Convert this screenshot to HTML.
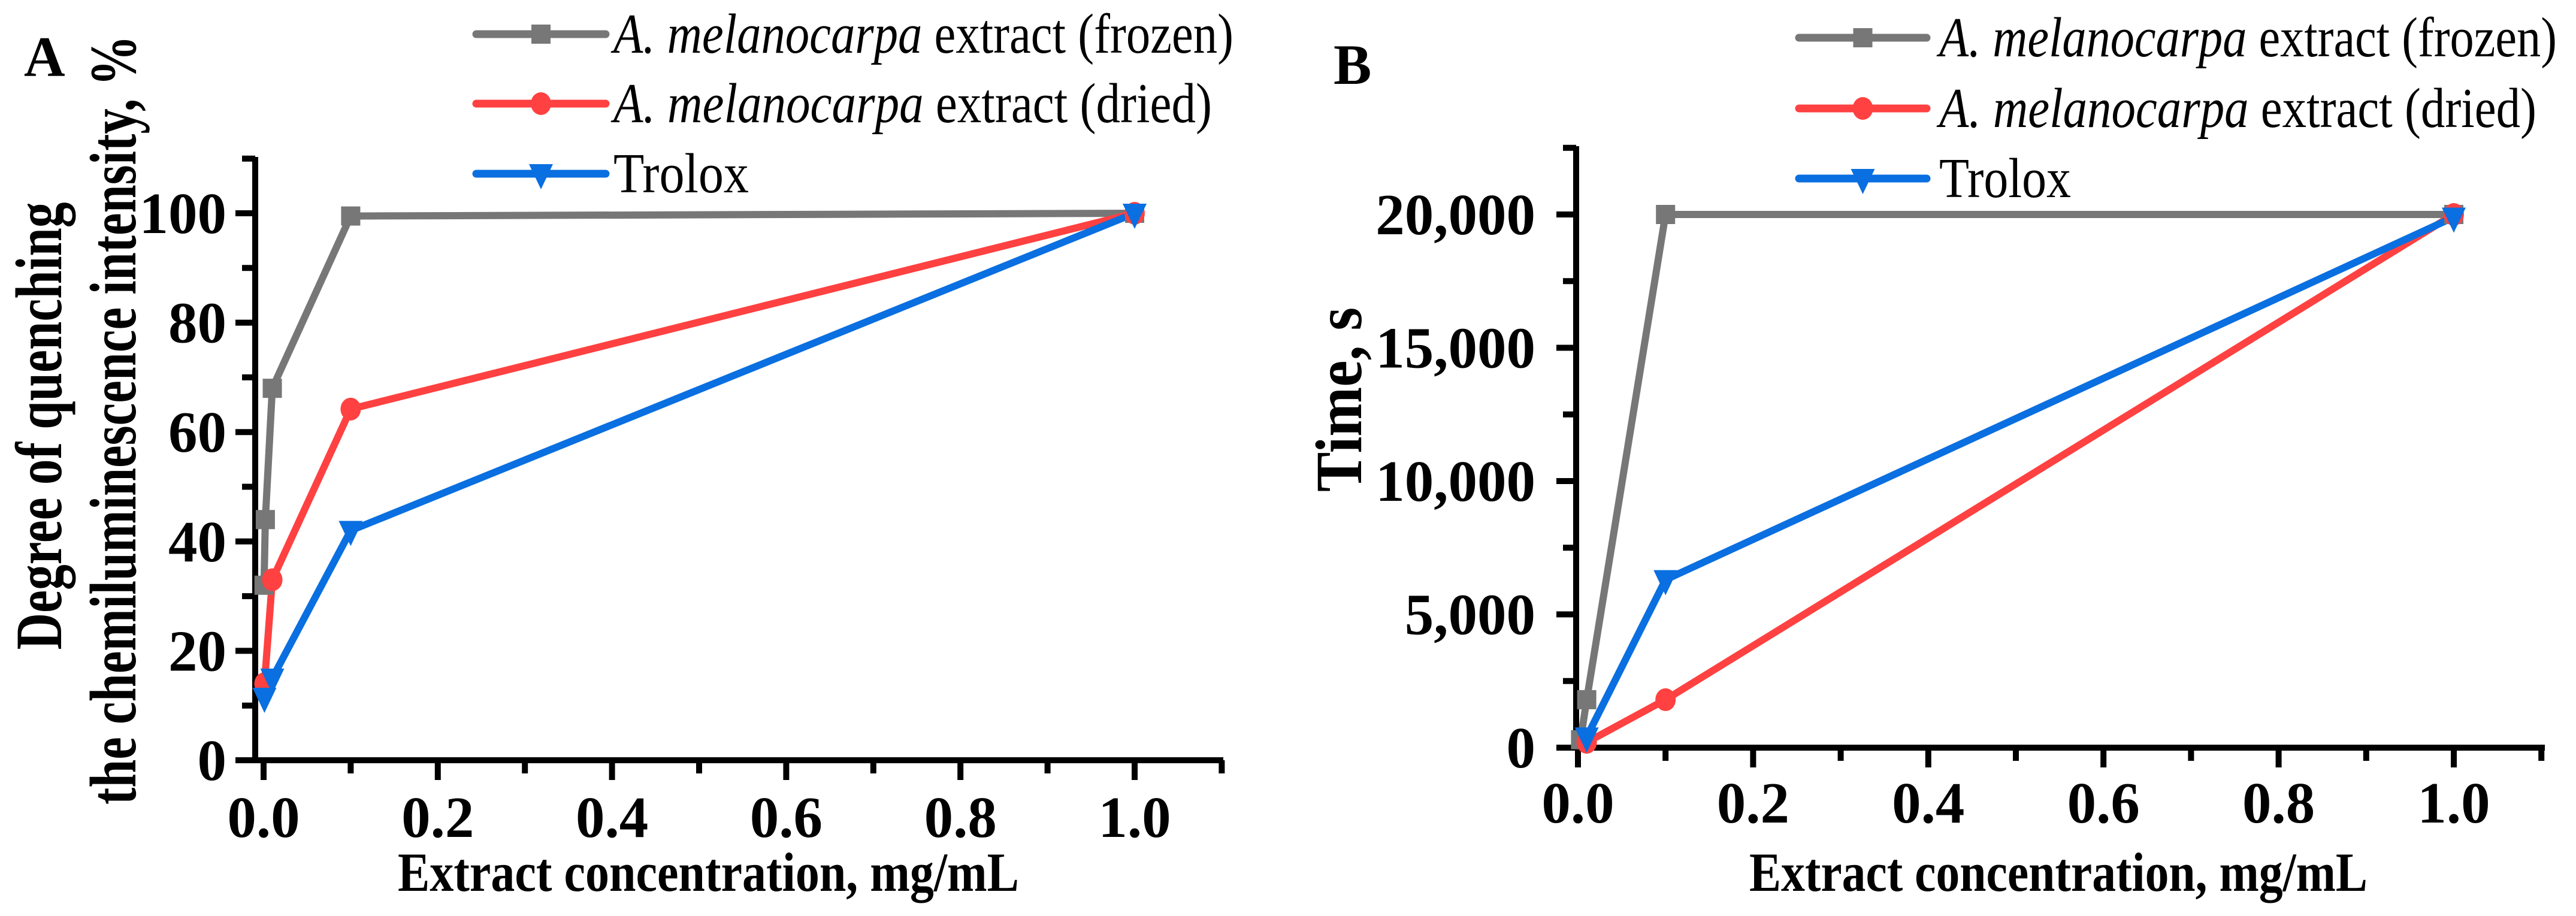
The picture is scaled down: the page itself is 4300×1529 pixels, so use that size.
<!DOCTYPE html>
<html><head><meta charset="utf-8"><style>
html,body{margin:0;padding:0;background:#fff;}
svg{display:block;}
text{font-family:"Liberation Serif",serif;fill:#000;}
</style></head><body>
<svg id="fig" width="4300" height="1529" viewBox="0 0 4300 1529" xmlns="http://www.w3.org/2000/svg">
<rect width="4300" height="1529" fill="#fff"/>
<g id="pa"></g>
<g id="pb"></g>
</svg>
<script>
// Panel A data
const aFrozenX=[0.0005,0.002,0.01,0.1,1];
const aFrozenY=[32,44,68,99.5,100];
const aDriedX=[0.001,0.01,0.1,1];
const aDriedY=[14,33,64.2,100];
const aTroloxX=[0.001,0.01,0.1,1];
const aTroloxY=[11.5,15,42,100];
const aYTicks=[0,20,40,60,80,100];
const aYTickLabels=["0","20","40","60","80","100"];
// Panel B data
const bFrozenX=[0.003,0.01,0.1,1];
const bFrozenY=[300,1800,20000,20000];
const bDriedX=[0.01,0.1,1];
const bDriedY=[200,1800,20000];
const bTroloxX=[0.01,0.1,1];
const bTroloxY=[400,6300,19900];
const bYTicks=[0,5000,10000,15000,20000];
const bYTickLabels=["0","5,000","10,000","15,000","20,000"];
const xTicks=[0,0.2,0.4,0.6,0.8,1.0];
const xTickLabels=["0.0","0.2","0.4","0.6","0.8","1.0"];
const legendLabels=["frozen","dried"];

const NS="http://www.w3.org/2000/svg";
const COL={frozen:"#777777",dried:"#ff4141",trolox:"#0a6fe0"};
function mk(parent,tag,attrs){const e=document.createElementNS(NS,tag);for(const k in attrs)e.setAttribute(k,attrs[k]);parent.appendChild(e);return e;}

function marker(g,type,x,y,name){
  let m;
  if(type==="frozen"){m=mk(g,"rect",{x:x-16,y:y-16,width:32,height:32,fill:COL.frozen});}
  else if(type==="dried"){m=mk(g,"ellipse",{cx:x,cy:y,rx:17,ry:19,fill:COL.dried});}
  else {m=mk(g,"polygon",{points:`${x-20},${y-16} ${x+20},${y-16} ${x},${y+26}`,fill:COL.trolox});}
  
  
}

function panel(g,cfg){
  const sx=v=>cfg.x0+(v-0)*(cfg.x1-cfg.x0)/1.0;
  const sy=v=>cfg.y0-(v)*(cfg.y0-cfg.y1)/cfg.yRef;
  const ax=mk(g,"path",{d:`M${cfg.ax} ${cfg.top} L${cfg.ax} ${cfg.y0+5} M${cfg.ax-5} ${cfg.y0} L${cfg.right} ${cfg.y0}`,stroke:"#000","stroke-width":10,fill:"none"});
  
  
  for(let i=0;i<=11;i++){
    const v=i*0.1;const major=i%2===0;
    const t=mk(g,"line",{x1:sx(v),x2:sx(v),y1:cfg.y0,y2:cfg.y0+(major?33:22),stroke:"#000","stroke-width":10});
    
    
  }
  xTicks.forEach((v,i)=>{
    const t=mk(g,"text",{x:sx(v),y:cfg.xlabBase,"text-anchor":"middle","font-size":97,"font-weight":"bold"});
    t.textContent=xTickLabels[i];
    
    
  });
  const step=cfg.yTicks[1]-cfg.yTicks[0];
  for(let v=0;v<=cfg.yMax+1e-9;v+=step/2){
    const major=Math.abs(v/step-Math.round(v/step))<1e-9;
    const t=mk(g,"line",{x1:cfg.ax,x2:cfg.ax-(major?33:22),y1:sy(v),y2:sy(v),stroke:"#000","stroke-width":10});
    
    
  }
  cfg.yTicks.forEach((v,i)=>{
    const t=mk(g,"text",{x:cfg.ylabRight,y:sy(v)+33,"text-anchor":"end","font-size":97,"font-weight":"bold"});
    t.textContent=cfg.yLabels[i];
    
    
  });
  cfg.series.forEach(s=>{
    const pts=s.x.map((v,i)=>`${sx(v)},${sy(s.y[i])}`).join(" ");
    const l=mk(g,"polyline",{points:pts,fill:"none",stroke:COL[s.type],"stroke-width":12,"stroke-linejoin":"round"});
    
    
  });
  cfg.series.forEach(s=>{
    s.x.forEach((v,i)=>marker(g,s.type,sx(v),sy(s.y[i]),'point-'+s.type));
  });
  ["frozen","dried","trolox"].forEach((tp,i)=>{
    const ly=cfg.legY[i];
    const lg=mk(g,"g",{});
    
    
    mk(lg,"line",{x1:cfg.legX0,x2:cfg.legX1,y1:ly,y2:ly,stroke:COL[tp],"stroke-width":13,"stroke-linecap":"round"});
    marker(lg,tp,(cfg.legX0+cfg.legX1)/2,ly,'legend-marker-'+tp);
    const t=mk(lg,"text",{x:cfg.legTX,y:ly+31,"font-size":94,textLength:cfg.legTW[i],lengthAdjust:"spacingAndGlyphs"});
    if(i<2){
      const it=mk(t,"tspan",{"font-style":"italic"});it.textContent="A. melanocarpa";
      const rt=mk(t,"tspan",{});rt.textContent=" extract ("+legendLabels[i]+")";
    } else t.textContent="Trolox";
    
    
  });
  const xt=mk(g,"text",{x:cfg.xtX,y:1487,"font-size":92,"font-weight":"bold",textLength:cfg.xtW,lengthAdjust:"spacingAndGlyphs"});
  xt.textContent="Extract concentration, mg/mL";
  
  
  cfg.yTitles.forEach(yt=>{
    const t=mk(g,"text",{x:0,y:0,"font-size":110,"font-weight":"bold","text-anchor":"middle",textLength:yt.len,lengthAdjust:"spacingAndGlyphs",transform:`translate(${yt.x},${yt.cy}) rotate(-90)`});
    t.textContent=yt.text;
    
    
  });
  const pl=mk(g,"text",{x:cfg.plX,y:cfg.plY,"font-size":95,"font-weight":"bold"});
  pl.textContent=cfg.plText;
  
  
}

panel(document.getElementById("pa"),{
  x0:440,x1:1894,ax:426,right:2042,y0:1269,y1:356,yRef:100,yMax:110,top:262,
  yTicks:aYTicks,yLabels:aYTickLabels,ylabRight:378,xlabBase:1397,
  series:[{type:"frozen",x:aFrozenX,y:aFrozenY},{type:"dried",x:aDriedX,y:aDriedY},{type:"trolox",x:aTroloxX,y:aTroloxY}],
  legX0:795,legX1:1011,legY:[57,173,290],legTX:1024,legTW:[1035,999,226],
  xtX:664,xtW:1037,
  yTitles:[{text:"Degree of quenching",x:102,cy:711,len:747},{text:"the chemiluminescence intensity, %",x:226,cy:701,len:1284}],
  plX:40,plY:127,plText:"A"
});
panel(document.getElementById("pb"),{
  x0:2634,x1:4096,ax:2631,right:4248,y0:1248,y1:358,yRef:20000,yMax:22500,top:244,
  yTicks:bYTicks,yLabels:bYTickLabels,ylabRight:2563,xlabBase:1373,
  series:[{type:"frozen",x:bFrozenX,y:bFrozenY},{type:"dried",x:bDriedX,y:bDriedY},{type:"trolox",x:bTroloxX,y:bTroloxY}],
  legX0:3003,legX1:3216,legY:[63,181,298],legTX:3237,legTW:[1031,997,220],
  xtX:2920,xtW:1032,
  yTitles:[{text:"Time, s",x:2272,cy:667,len:308}],
  plX:2226,plY:140,plText:"B"
});
</script>
</body></html>
